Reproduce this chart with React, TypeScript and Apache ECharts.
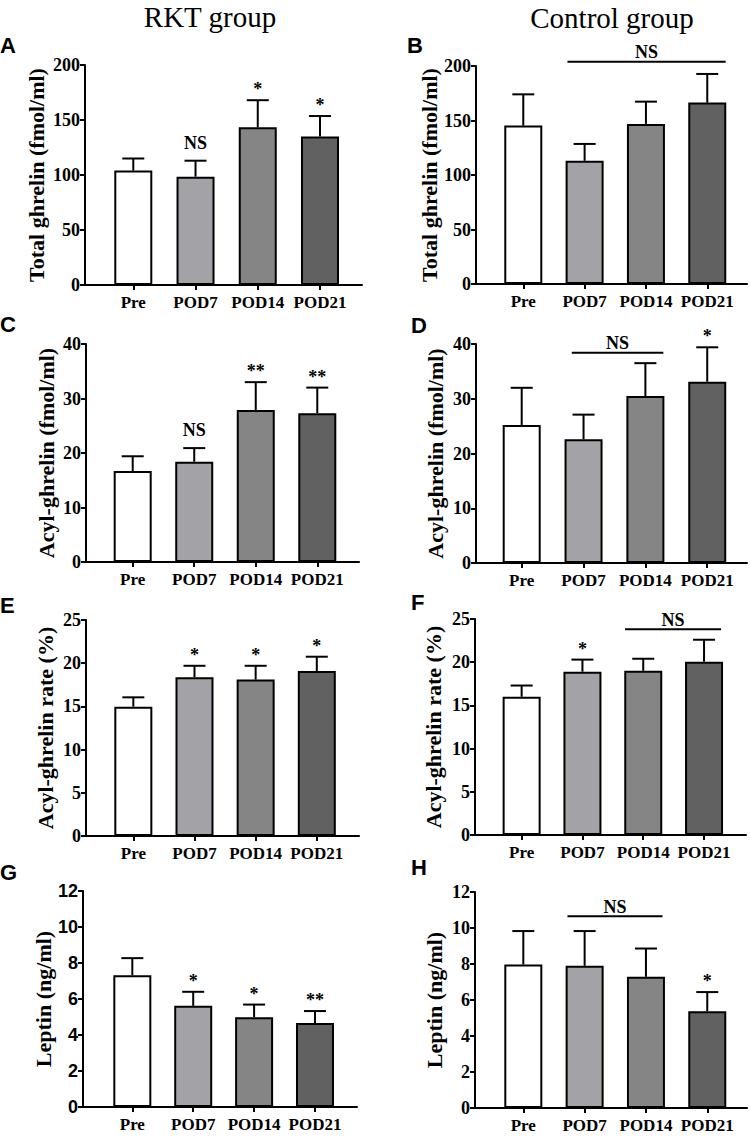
import React, { useEffect, useRef } from "react";
import * as echarts from "echarts";

const categories = ["Pre", "POD7", "POD14", "POD21"];
const barColors = ["#ffffff", "#a3a3a7", "#858585", "#616161"];

// A: Total ghrelin, RKT group
const totalGhrelinRKT = [104, 98.5, 143.4, 135];
const totalGhrelinRKTsd = [11, 14.5, 24.6, 18.6];
const totalGhrelinRKTsig = ["", "NS", "*", "*"];
// B: Total ghrelin, Control group
const totalGhrelinCtrl = [145.3, 113, 146.9, 166.4];
const totalGhrelinCtrlsd = [28.7, 15.5, 20.4, 26.3];
const totalGhrelinCtrlsig = ["", "", "", ""];
// C: Acyl-ghrelin, RKT group
const acylRKT = [16.7, 18.4, 27.9, 27.3];
const acylRKTsd = [2.7, 2.5, 5.1, 4.7];
const acylRKTsig = ["", "NS", "**", "**"];
// D: Acyl-ghrelin, Control group
const acylCtrl = [25.2, 22.6, 30.5, 33.1];
const acylCtrlsd = [6.8, 4.5, 6.0, 6.3];
const acylCtrlsig = ["", "", "", "*"];
// E: Acyl-ghrelin rate, RKT group
const rateRKT = [14.97, 18.37, 18.1, 19.1];
const rateRKTsd = [1.08, 1.33, 1.6, 1.65];
const rateRKTsig = ["", "*", "*", "*"];
// F: Acyl-ghrelin rate, Control group
const rateCtrl = [16.0, 18.9, 19.0, 20.06];
const rateCtrlsd = [1.3, 1.4, 1.4, 2.54];
const rateCtrlsig = ["", "*", "", ""];
// G: Leptin, RKT group
const leptinRKT = [7.32, 5.62, 4.99, 4.66];
const leptinRKTsd = [0.95, 0.78, 0.7, 0.67];
const leptinRKTsig = ["", "*", "*", "**"];
// H: Leptin, Control group
const leptinCtrl = [7.97, 7.9, 7.29, 5.37];
const leptinCtrlsd = [1.86, 1.93, 1.57, 1.07];
const leptinCtrlsig = ["", "", "", "*"];

// NS brackets: [from category, to category, value level]
const bracketB = [0.72, 3.3, 204];
const bracketD = [0.81, 2.29, 38.4];
const bracketF = [1.7, 3.28, 23.8];
const bracketH = [0.72, 2.27, 10.65];

const yMaxes = [200, 200, 40, 40, 25, 25, 12, 12];
const yIntervals = [50, 50, 10, 10, 5, 5, 2, 2];
const yNames = [
  "Total ghrelin (fmol/ml)",
  "Total ghrelin (fmol/ml)",
  "Acyl-ghrelin (fmol/ml)",
  "Acyl-ghrelin (fmol/ml)",
  "Acyl-ghrelin rate (%)",
  "Acyl-ghrelin rate (%)",
  "Leptin (ng/ml)",
  "Leptin (ng/ml)",
];
const panelLetters = ["A", "B", "C", "D", "E", "F", "G", "H"];

const SERIF = '"Liberation Serif", "Times New Roman", serif';
const SANS = '"Liberation Sans", Arial, sans-serif';

// layout: left, top, width, height, xMin, xMax, nameGap, letterX, letterY
const layouts = [
  { left: 85, top: 65, width: 277, height: 220, xMin: -0.776, xMax: 3.675, nameGap: 38, lx: 0, ly: 45.7 },
  { left: 476, top: 66, width: 271, height: 218, xMin: -0.771, xMax: 3.648, nameGap: 35.5, lx: 407, ly: 45.7 },
  { left: 86, top: 344, width: 273, height: 218, xMin: -0.759, xMax: 3.678, nameGap: 28.5, lx: 0, ly: 324.4 },
  { left: 476, top: 344, width: 271, height: 219, xMin: -0.739, xMax: 3.643, nameGap: 29.5, lx: 411, ly: 325.4 },
  { left: 86, top: 620, width: 273, height: 216, xMin: -0.774, xMax: 3.69, nameGap: 30, lx: 0, ly: 605.4 },
  { left: 475, top: 619, width: 271, height: 216, xMin: -0.767, xMax: 3.69, nameGap: 31, lx: 411, ly: 602.4 },
  { left: 83, top: 891, width: 274, height: 216, xMin: -0.81, xMax: 3.69, nameGap: 28, lx: 0, ly: 872.4 },
  { left: 475, top: 892, width: 272, height: 216, xMin: -0.788, xMax: 3.648, nameGap: 30, lx: 411, ly: 867.4 },
];

const panelMeans = [totalGhrelinRKT, totalGhrelinCtrl, acylRKT, acylCtrl, rateRKT, rateCtrl, leptinRKT, leptinCtrl];
const panelSds = [totalGhrelinRKTsd, totalGhrelinCtrlsd, acylRKTsd, acylCtrlsd, rateRKTsd, rateCtrlsd, leptinRKTsd, leptinCtrlsd];
const panelSigs = [totalGhrelinRKTsig, totalGhrelinCtrlsig, acylRKTsig, acylCtrlsig, rateRKTsig, rateCtrlsig, leptinRKTsig, leptinCtrlsig];
const panelBrackets: (number[] | null)[] = [null, bracketB, null, bracketD, null, bracketF, null, bracketH];

function buildOption() {
  const grid: any[] = [];
  const xAxis: any[] = [];
  const yAxis: any[] = [];
  const series: any[] = [];
  const graphic: any[] = [];

  layouts.forEach((l, i) => {
    grid.push({ left: l.left, top: l.top, width: l.width, height: l.height, containLabel: false });
    xAxis.push({
      type: "value",
      gridIndex: i,
      min: l.xMin,
      max: l.xMax,
      splitLine: { show: false },
      axisLine: { show: true, onZero: false, lineStyle: { color: "#000", width: 2 } },
      axisTick: { show: true, customValues: [0, 1, 2, 3], length: 5, lineStyle: { color: "#000", width: 2 } },
      axisLabel: {
        customValues: [0, 1, 2, 3],
        formatter: (v: number) => categories[Math.round(v)],
        fontFamily: SERIF,
        fontWeight: "bold",
        fontSize: 17,
        color: "#000",
        margin: 9,
      },
    });
    yAxis.push({
      type: "value",
      gridIndex: i,
      min: 0,
      max: yMaxes[i],
      interval: yIntervals[i],
      name: yNames[i],
      nameLocation: "middle",
      nameRotate: 90,
      nameGap: l.nameGap,
      nameTextStyle: { fontFamily: SERIF, fontWeight: "bold", fontSize: 22, color: "#000" },
      splitLine: { show: false },
      axisLine: { show: true, onZero: false, lineStyle: { color: "#000", width: 2 } },
      axisTick: { show: true, length: 5, lineStyle: { color: "#000", width: 2 } },
      axisLabel: {
        fontFamily: i === 6 ? SANS : SERIF,
        fontWeight: "bold",
        fontSize: 18,
        color: "#000",
        margin: 5,
      },
    });

    const means = panelMeans[i];
    const sds = panelSds[i];
    const sigs = panelSigs[i];

    series.push({
      type: "bar",
      xAxisIndex: i,
      yAxisIndex: i,
      barWidth: 38,
      data: means.map((v, j) => ({
        value: [j, v],
        itemStyle: { color: barColors[j], borderColor: "#000", borderWidth: 2 },
      })),
    });

    series.push({
      type: "custom",
      xAxisIndex: i,
      yAxisIndex: i,
      data: means.map((v, j) => [j, v, sds[j]]),
      renderItem: (params: any, api: any) => {
        const x = api.value(0);
        const v = api.value(1);
        const e = api.value(2);
        const base = api.coord([x, v]);
        const top = api.coord([x, v + e]);
        const sig = sigs[params.dataIndex];
        const children: any[] = [
          { type: "line", shape: { x1: base[0], y1: base[1], x2: top[0], y2: top[1] }, style: { stroke: "#000", lineWidth: 2 } },
          { type: "line", shape: { x1: top[0] - 11, y1: top[1], x2: top[0] + 11, y2: top[1] }, style: { stroke: "#000", lineWidth: 2 } },
        ];
        if (sig) {
          children.push({
            type: "text",
            style: {
              text: sig,
              x: top[0],
              y: top[1] - (sig === "NS" ? 18 : 11),
              align: "center",
              verticalAlign: "middle",
              font: `bold 18px ${SERIF}`,
              fill: "#000",
            },
          });
        }
        return { type: "group", children };
      },
    });

    const br = panelBrackets[i];
    if (br) {
      series.push({
        type: "custom",
        xAxisIndex: i,
        yAxisIndex: i,
        clip: false,
        data: [br],
        renderItem: (params: any, api: any) => {
          const a = api.coord([api.value(0), api.value(2)]);
          const b = api.coord([api.value(1), api.value(2)]);
          return {
            type: "group",
            children: [
              { type: "line", shape: { x1: a[0], y1: a[1], x2: b[0], y2: b[1] }, style: { stroke: "#000", lineWidth: 2 } },
              {
                type: "text",
                style: {
                  text: "NS",
                  x: (a[0] + b[0]) / 2,
                  y: a[1] - 9.6,
                  align: "center",
                  verticalAlign: "middle",
                  font: `bold 18px ${SERIF}`,
                  fill: "#000",
                },
              },
            ],
          };
        },
      });
    }

    graphic.push({
      type: "text",
      x: l.lx,
      y: l.ly,
      style: {
        text: panelLetters[i],
        font: `bold 22px ${SANS}`,
        fill: "#000",
        align: "left",
        verticalAlign: "middle",
      },
    });
  });

  graphic.push({
    type: "text",
    x: 210,
    y: 16.5,
    style: { text: "RKT group", font: `normal 29px ${SERIF}`, fill: "#000", align: "center", verticalAlign: "middle" },
  });
  graphic.push({
    type: "text",
    x: 612,
    y: 17.5,
    style: { text: "Control group", font: `normal 29px ${SERIF}`, fill: "#000", align: "center", verticalAlign: "middle" },
  });

  return {
    animation: false,
    backgroundColor: "#ffffff",
    grid,
    xAxis,
    yAxis,
    series,
    graphic,
  };
}

export default function App() {
  const ref = useRef<HTMLDivElement>(null);
  useEffect(() => {
    document.body.style.margin = "0";
    if (!ref.current) return;
    const chart = echarts.init(ref.current, undefined, { renderer: "svg" });
    chart.setOption(buildOption() as any);
    return () => chart.dispose();
  }, []);
  return <div ref={ref} style={{ width: 750, height: 1139, position: "absolute", left: 0, top: 0 }} />;
}
